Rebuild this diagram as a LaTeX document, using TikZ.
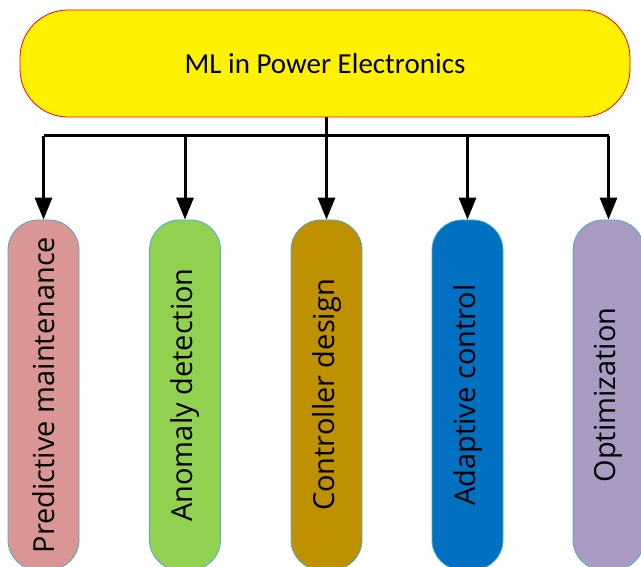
\documentclass[tikz,border=0pt]{standalone}
\usepackage{fontspec}
\setmainfont{Carlito}
\newfontfamily\boxfont{Open Sans}
\usetikzlibrary{arrows.meta}
\definecolor{cpink}{HTML}{D99694}
\definecolor{cgreen}{HTML}{92D050}
\definecolor{cgold}{HTML}{BF9000}
\definecolor{cblue}{HTML}{0070C0}
\definecolor{cpurple}{HTML}{A99BC1}
\definecolor{cedge}{HTML}{4BACC6}
\begin{document}
\begin{tikzpicture}[x=1pt,y=1pt,
  topbox/.style={draw=red, line width=0.8pt, fill=yellow, rounded corners=48pt,
    minimum width=610pt, minimum height=107pt, inner sep=0pt,
    font=\fontsize{29}{32}\selectfont},
  leafbox/.style={draw=cedge, line width=0.8pt, rounded corners=30pt,
    minimum width=71pt, minimum height=350pt, inner sep=0pt,
    font=\boxfont\fontsize{29}{32}\selectfont},
  link/.style={line width=3pt, line cap=butt},
  arr/.style={link, -{Triangle[width=17pt,length=22pt]}}
]
\useasboundingbox (0,0) rectangle (641,566);
\node[topbox] (top) at (325,502.5) {ML in Power Electronics};
\node[leafbox, fill=cpink]   (b1) at (43.5,171) {\rotatebox{90}{Predictive maintenance}};
\node[leafbox, fill=cgreen]  (b2) at (185,171) {\rotatebox{90}{Anomaly detection}};
\node[leafbox, fill=cgold]   (b3) at (326.5,171) {\rotatebox{90}{Controller design}};
\node[leafbox, fill=cblue]   (b4) at (467.5,171) {\rotatebox{90}{Adaptive control}};
\node[leafbox, fill=cpurple] (b5) at (608.5,171) {\rotatebox{90}{Optimization}};
\coordinate (bus) at (326.5,430);
\coordinate (busL) at (43.5,430);
\coordinate (busR) at (608.5,430);
\draw[link] (top.south -| bus) -- (bus);
\draw[link] (busL) -- (busR);
\foreach \b in {b1,b2,b3,b4,b5}{
  \draw[arr] (bus -| \b.north) -- (\b.north);
}
\end{tikzpicture}
\end{document}
